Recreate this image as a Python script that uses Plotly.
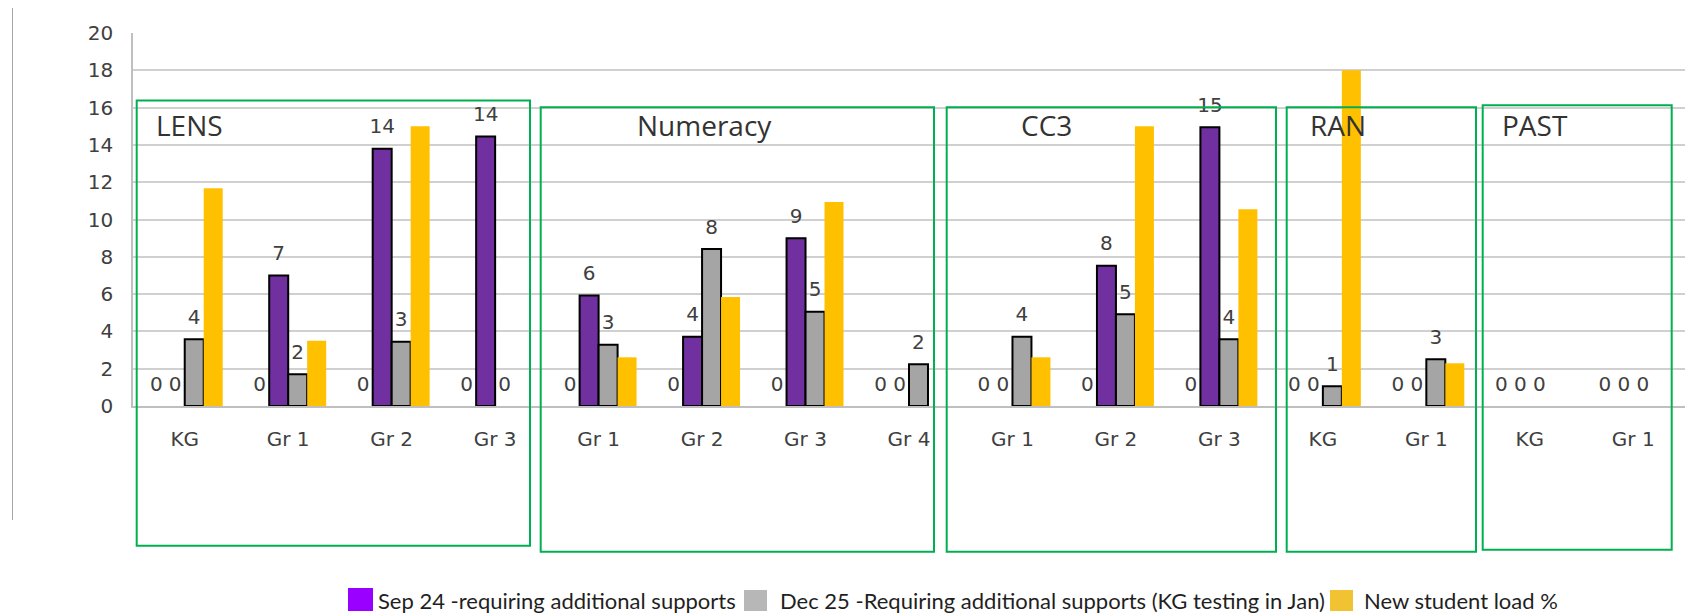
import plotly.graph_objects as go

# ---- data ----
categories = ["KG", "Gr 1", "Gr 2", "Gr 3",
              "Gr 1", "Gr 2", "Gr 3", "Gr 4",
              "Gr 1", "Gr 2", "Gr 3",
              "KG", "Gr 1",
              "KG", "Gr 1"]
hidden_zero = [0, 0, 0, 0, 0, 0, 0, 0, 0, 0, 0, 0, 0, 0, 0]
sep24 = [0, 7.0, 13.8, 14.45, 5.93, 3.71, 8.99, 0, 0, 7.52, 14.95, 0, 0, 0, 0]
dec25 = [3.58, 1.7, 3.45, 0, 3.28, 8.42, 5.05, 2.24, 3.71, 4.92, 3.58, 1.06, 2.51, 0, 0]
new_load = [11.67, 3.5, 15.0, 0, 2.61, 5.85, 10.94, 0, 2.61, 15.0, 10.55, 18.0, 2.29, 0, 0]
series_names = ["Sep 24 -requiring additional supports",
                "Dec 25 -Requiring additional supports (KG testing in Jan)",
                "New student load %"]
group_titles = ["LENS", "Numeracy", "CC3", "RAN", "PAST"]
y_ticks = [0, 2, 4, 6, 8, 10, 12, 14, 16, 18, 20]

# ---- layout geometry (pixels, in page coordinates; page body has an 8px margin) ----
OFF = 8
W, H = 1697 - OFF, 616 - OFF
L, T = 133 - OFF, 33 - OFF
R = W - (1685 - OFF)
B = H - (406 - OFF)
PW, PH = W - L - R, H - T - B
GAP = 0.266


def px_x(p):
    return (p - OFF - L) / PW


def px_y(p):
    return (H - B - (p - OFF)) / PH


xpos = list(range(len(categories)))
label_font = dict(family="DejaVu Sans", size=20, color="#404040")


def widths(vals, w):
    return [w if v > 0 else 0 for v in vals]


fig = go.Figure()
bar_specs = [
    (hidden_zero, "rgba(0,0,0,0)", 0, "hidden", True),
    (sep24, "#7030A0", 2, series_names[0], True),
    (dec25, "#A5A5A5", 2, series_names[1], True),
    (new_load, "#FFC000", 0, series_names[2], False),
]
for k, (vals, col, lw, nm, lab) in enumerate(bar_specs):
    fig.add_trace(go.Bar(x=xpos, y=vals, offsetgroup=str(k), name=nm,
                         marker=dict(color=col, line=dict(color="#000000", width=widths(vals, lw))),
                         showlegend=False, hoverinfo="skip" if k == 0 else None))

# data labels (grouped scatter traces aligned to the bar slots)
for k, (vals, col, lw, nm, lab) in enumerate(bar_specs):
    fig.add_trace(go.Scatter(x=xpos, y=vals, offsetgroup=str(k),
                             mode="markers+text" if lab else "markers",
                             marker=dict(size=15, color="rgba(0,0,0,0)"),
                             texttemplate="%{y:.0f}" if lab else None,
                             textposition="top center",
                             textfont=label_font, cliponaxis=False, showlegend=False,
                             hoverinfo="skip"))

shapes = []
boxes = [(136.7, 100.5, 530, 545.7), (540.7, 107.3, 934, 551.7), (946.7, 107.3, 1276, 551.7),
         (1286.7, 107.3, 1476, 551.7), (1482.7, 105.3, 1671.7, 549.7)]
for (x0, y0, x1, y1) in boxes:
    shapes.append(dict(type="rect", xref="paper", yref="paper", x0=px_x(x0), x1=px_x(x1),
                       y0=px_y(y1), y1=px_y(y0), line=dict(color="#00B050", width=2)))
shapes.append(dict(type="line", xref="paper", yref="paper", x0=px_x(12.5), x1=px_x(12.5),
                   y0=px_y(520), y1=px_y(OFF), line=dict(color="#A6A6A6", width=1)))

annotations = []
title_left = [154, 635, 1019, 1308, 1500]
for t, xl in zip(group_titles, title_left):
    annotations.append(dict(text=t, xref="paper", yref="paper", x=px_x(xl), y=px_y(125),
                            xanchor="left", yanchor="middle", showarrow=False,
                            font=dict(family="Open Sans", size=28, color="#333333")))

# legend (drawn as swatches + text)
legend_colors = ["#9900FF", "#B7B7B7", "#F1C232"]
swatches = [(348, 588, 373, 611), (744, 590, 767, 611), (1330, 590, 1353, 611)]
text_left = [376, 778, 1362]
for nm, col, (x0, y0, x1, y1), tl in zip(series_names, legend_colors, swatches, text_left):
    shapes.append(dict(type="rect", xref="paper", yref="paper", x0=px_x(x0), x1=px_x(x1),
                       y0=px_y(y1), y1=px_y(y0), fillcolor=col, line=dict(width=0)))
    annotations.append(dict(text=nm, xref="paper", yref="paper", x=px_x(tl), y=px_y(600),
                            xanchor="left", yanchor="middle", showarrow=False,
                            font=dict(family="Lato", size=22, color="#1F1F1F")))

fig.update_layout(
    width=W, height=H,
    margin=dict(l=L, r=R, t=T, b=B, pad=0),
    paper_bgcolor="white", plot_bgcolor="white",
    barmode="group", bargap=GAP, bargroupgap=0,
    scattermode="group", scattergap=GAP,
    shapes=shapes, annotations=annotations, showlegend=False,
    xaxis=dict(range=[-0.5, len(categories) - 0.5], tickmode="array", tickvals=xpos,
               ticktext=categories, showgrid=False, showline=True, linecolor="#BFBFBF",
               linewidth=1.5, ticks="outside", ticklen=14, tickcolor="rgba(0,0,0,0)",
               tickfont=label_font, zeroline=False, fixedrange=True),
    yaxis=dict(range=[0, 20], tickmode="array", tickvals=y_ticks, showgrid=True,
               gridcolor="#D0D0D0", gridwidth=1.5, showline=True, linecolor="#BFBFBF",
               linewidth=1.5, ticks="outside", ticklen=14, tickcolor="rgba(0,0,0,0)",
               tickfont=label_font, zeroline=False, fixedrange=True),
)

fig.write_html("out.html")
